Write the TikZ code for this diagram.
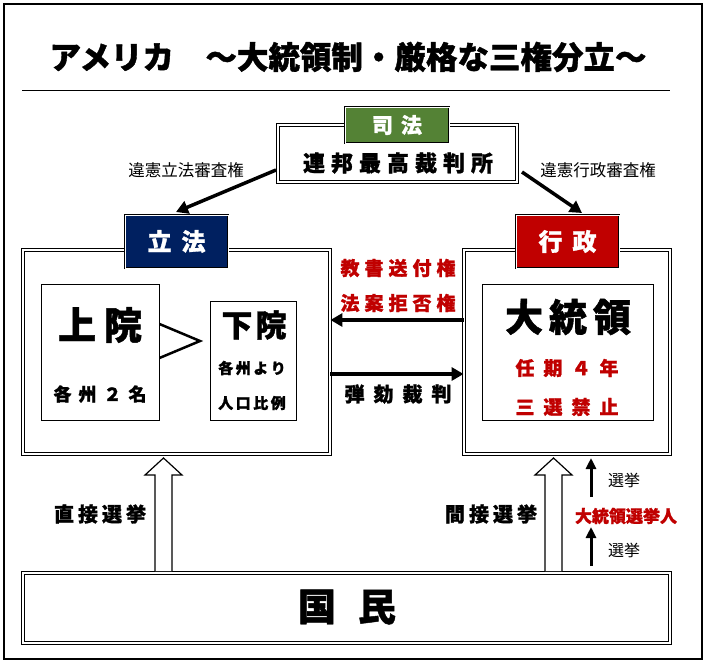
\documentclass[tikz,border=0pt]{standalone}
\usepackage{fontspec}
\setmainfont{Noto Sans CJK JP}[BoldFeatures={FakeBold=1.2}]
\usetikzlibrary{arrows.meta}
\definecolor{navyc}{HTML}{002060}
\definecolor{redc}{HTML}{C00000}
\definecolor{greenc}{HTML}{548235}
\newcommand{\kk}[1]{\kern#1pt}
\begin{document}
\begin{tikzpicture}[x=1pt,y=-1pt,
  dbox/.style={draw=black, double=white, double distance=1.6pt, line width=0.8pt, fill=white, inner sep=0pt},
  sbox/.style={draw=black, line width=1pt, fill=white, inner sep=0pt},
  lbl/.style={draw=black, double=white, double distance=0.8pt, line width=0.7pt, inner sep=0pt, text=white, font=\bfseries\fontsize{24}{24}\selectfont},
  bigarrow/.style={line width=3.5pt, -{Triangle[length=12pt,width=13pt]}},
  smallarrow/.style={line width=3pt, -{Triangle[length=11pt,width=10pt]}},
  txt/.style={inner sep=0pt, font=\bfseries\fontsize{#1}{#1}\selectfont},
  rtxt/.style={inner sep=0pt, font=\fontsize{#1}{#1}\selectfont},
  hollow/.style={draw=black, line width=1.2pt, fill=white}
]
\useasboundingbox (0,0) rectangle (707,664);
\fill[white] (0,0) rectangle (707,664);
\draw[line width=2pt] (4,4) rectangle (702,659);

% title
\node[txt=31.5] (title) at (348,57) {アメリカ　～大統領制・厳格な三権分立～};
\draw[line width=1pt] (22,90) coordinate (rl) -- (670,90) coordinate (rr);

% court
\node[dbox, minimum width=239pt, minimum height=57pt] (court) at (397.5,153.5) {};
\node[txt=22] (courtT) at (398,163) {連\kk{6}邦\kk{6}最\kk{6}高\kk{6}裁\kk{6}判\kk{6}所};
\node[lbl, fill=greenc, minimum width=104pt, minimum height=36pt, font=\bfseries\fontsize{21}{21}\selectfont] (shiho) at (397,125) {司\kk{8}法};

% legislature
\node[dbox, minimum width=307pt, minimum height=204pt] (leg) at (176.5,352) {};
\node[lbl, fill=navyc, minimum width=103pt, minimum height=53pt] (rippo) at (176.5,241.5) {立\kk{10}法};
\node[sbox, minimum width=118pt, minimum height=136pt] (jo) at (100,352) {};
\node[txt=38] (joT) at (100,325) {上\kk{8}院};
\node[txt=18] (joS) at (100,394) {各\kk{7}州\kk{7}２\kk{7}名};
\node[sbox, minimum width=86pt, minimum height=119pt] (ka) at (253,360.5) {};
\node[txt=31] (kaT) at (254,325) {下\kk{3}院};
\node[txt=15] (kaS1) at (252,368) {各\kk{2.5}州\kk{2.5}よ\kk{2.5}り};
\node[txt=15] (kaS2) at (252,403) {人\kk{2.5}口\kk{2.5}比\kk{2.5}例};
\draw[line width=2.5pt] (jo.east |- 0,324) coordinate (g1) -- (200,341) coordinate (g2) -- (jo.east |- 0,358) coordinate (g3);

% executive
\node[dbox, minimum width=206pt, minimum height=204pt] (exe) at (567,352) {};
\node[lbl, fill=redc, minimum width=103pt, minimum height=53pt] (gyosei) at (567.5,241.5) {行\kk{10}政};
\node[sbox, minimum width=171pt, minimum height=136pt] (pres) at (567.5,352) {};
\node[txt=38] (presT) at (568,317) {大\kk{6}統\kk{6}領};
\node[txt=19, text=redc] (presS1) at (567,368) {任\kk{9}期\kk{9}４\kk{9}年};
\node[txt=19, text=redc] (presS2) at (567,407) {三\kk{9}選\kk{9}禁\kk{9}止};

% court arrows
\coordinate (c1) at (276,170);
\coordinate (c1t) at (176,212);
\coordinate (c2) at (522,172);
\coordinate (c2t) at (582,213);
\draw[bigarrow] (c1) -- (c1t);
\draw[bigarrow] (c2) -- (c2t);
\node[rtxt=16.5] (ihoL) at (186,170) {違憲立法審査権};
\node[rtxt=16.5] (ihoR) at (598,170) {違憲行政審査権};

% between arrows
\draw[bigarrow] (exe.west |- 0,320) -- (leg.east |- 0,320);
\draw[bigarrow] (leg.east |- 0,374) -- (exe.west |- 0,374);
\node[txt=19, text=redc] (kyosho) at (398,268) {教\kk{5}書\kk{5}送\kk{5}付\kk{5}権};
\node[txt=19, text=redc] (kyohi) at (398,303) {法\kk{5}案\kk{5}拒\kk{5}否\kk{5}権};
\node[txt=20] (dangai) at (398,394) {弾\kk{9}劾\kk{9}裁\kk{9}判};

% people
\node[dbox, minimum width=647pt, minimum height=70pt] (kokumin) at (346.5,608) {};
\node[txt=38] (kokuminT) at (347,607) {国\kk{22}民};

% hollow arrows
\draw[hollow] (155,571) -- (155,475) -- (145,475) -- (163.5,458) -- (182,475) -- (172,475) -- (172,571);
\draw[hollow] (545,571) -- (545,475) -- (535,475) -- (553.5,458) -- (572,475) -- (562,475) -- (562,571);
\node[txt=20] (chokusetsu) at (100,514) {直\kk{4}接\kk{4}選\kk{4}挙};
\node[txt=20] (kansetsu) at (491,514) {間\kk{4}接\kk{4}選\kk{4}挙};

% electors
\node[txt=17, text=redc] (elect) at (626,516) {大統領選挙人};
\coordinate (s1) at (591,497);
\coordinate (s1t) at (591,458);
\coordinate (s2) at (591,566);
\coordinate (s2t) at (591,527);
\draw[smallarrow] (s1) -- (s1t);
\draw[smallarrow] (s2) -- (s2t);
\node[rtxt=16] (sen1) at (624,480) {選挙};
\node[rtxt=16] (sen2) at (624,550) {選挙};
\end{tikzpicture}
\end{document}
